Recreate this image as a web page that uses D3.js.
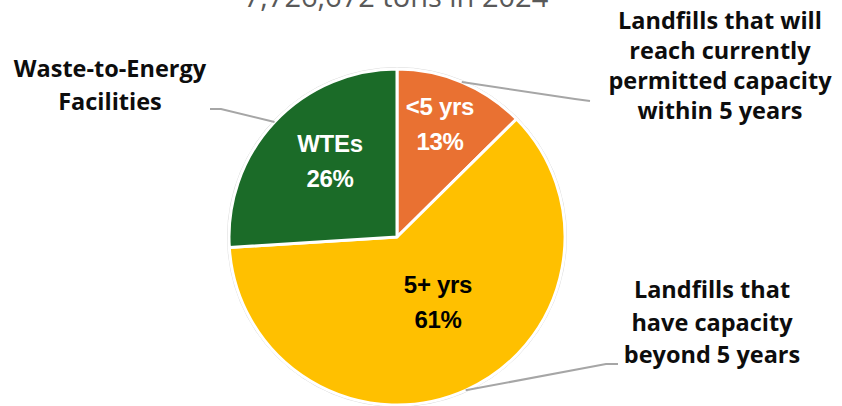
<!DOCTYPE html>
<html lang="en">
<head>
  <meta charset="UTF-8">
  <title>Waste disposal capacity</title>
  <script src="https://d3js.org/d3.v7.min.js"></script>
  <style>
    body { margin: 0; background: #fff; }
  </style>
</head>
<body>
  <div id="viz"></div>

  <script>
    // Data (share of 7,726,672 tons, starting at 12 o'clock, clockwise)
    const categories = ['<5 yrs', '5+ yrs', 'WTEs'];
    const shares = [12.6, 61.4, 26.0];
    const sliceColors = ['#E97132', '#FFC000', '#1B6B28'];
    const sliceTextColors = ['#ffffff', '#000000', '#ffffff'];
    const calloutLines = [
      ['Landfills that will', 'reach currently', 'permitted capacity', 'within 5 years'],
      ['Landfills that', 'have capacity', 'beyond 5 years'],
      ['Waste-to-Energy', 'Facilities']
    ];
    const titleText = '7,726,672 tons in 2024';

    const width = 842, height = 406;
    const cx = 397, cy = 237, radius = 168;

    const svg = d3.select('#viz')
      .append('svg')
        .attr('width', width)
        .attr('height', height);

    // Title (clipped at the top, as in the original)
    svg.append('text')
      .attr('x', 396)
      .attr('y', 7)
      .attr('text-anchor', 'middle')
      .attr('font-family', 'Open Sans')
      .attr('font-size', 29)
      .attr('fill', '#595959')
      .text(titleText);

    const data = categories.map((c, i) => ({ name: c, value: shares[i], i }));

    const pie = d3.pie()
      .sort(null)
      .value(d => d.value);
    const arcs = pie(data);

    const arc = d3.arc().innerRadius(0).outerRadius(radius);

    const g = svg.append('g')
      .attr('transform', `translate(${cx}, ${cy})`);

    // thin grey rim round the pie
    g.append('circle')
      .attr('r', radius + 1.5)
      .attr('fill', 'none')
      .attr('stroke', '#d9d9d9')
      .attr('stroke-width', 1);

    g.selectAll('path.slice')
      .data(arcs)
      .enter()
      .append('path')
        .attr('class', 'slice')
        .attr('d', arc)
        .attr('fill', d => sliceColors[d.data.i])
        .attr('stroke', '#ffffff')
        .attr('stroke-width', 3)
        .attr('stroke-linejoin', 'round');

    // in-slice labels
    const labelPos = [
      [43, -122],   // <5 yrs
      [41, 56],     // 5+ yrs
      [-67, -85]    // WTEs
    ];
    const fmt = v => Math.round(v) + '%';
    arcs.forEach((a, k) => {
      const [lx, ly] = labelPos[k];
      const t = g.append('text')
        .attr('text-anchor', 'middle')
        .attr('font-family', 'Liberation Sans, Arial, sans-serif')
        .attr('font-weight', 'bold')
        .attr('font-size', 24)
        .attr('letter-spacing', -0.3)
        .attr('fill', sliceTextColors[k]);
      t.append('tspan').attr('x', lx).attr('y', ly).text(a.data.name);
      t.append('tspan').attr('x', lx).attr('y', ly + 35).text(fmt(a.data.value));
    });

    // leader lines, anchored on the middle of each slice's edge
    const edge = (k, frac, r) => {
      const a = arcs[k];
      const ang = a.startAngle + (a.endAngle - a.startAngle) * frac;
      return [cx + r * Math.sin(ang), cy - r * Math.cos(ang)];
    };
    const leaders = [
      { from: edge(0, 0.5, radius), to: [[575, 99], [590, 101]] },
      { from: edge(1, 0.5, radius), to: [[606, 364], [618, 364]] },
      { from: edge(2, 0.5, radius), to: [[221, 109], [210, 109]] }
    ];
    leaders.forEach(l => {
      svg.append('path')
        .attr('d', d3.line()([l.from, ...l.to]))
        .attr('fill', 'none')
        .attr('stroke', '#a6a6a6')
        .attr('stroke-width', 2);
    });

    // callout text blocks
    const calloutPos = [
      { x: 720, y: 29, step: 30 },
      { x: 712, y: 298, step: 32.5 },
      { x: 110, y: 77, step: 33 }
    ];
    calloutLines.forEach((lines, k) => {
      const p = calloutPos[k];
      const t = svg.append('text')
        .attr('text-anchor', 'middle')
        .attr('font-family', 'Open Sans')
        .attr('font-weight', 'bold')
        .attr('font-size', 23.5)
        .attr('fill', '#0d0d0d');
      lines.forEach((s, j) => {
        t.append('tspan')
          .attr('x', p.x)
          .attr('y', p.y + j * p.step)
          .text(s);
      });
    });
  </script>
</body>
</html>
